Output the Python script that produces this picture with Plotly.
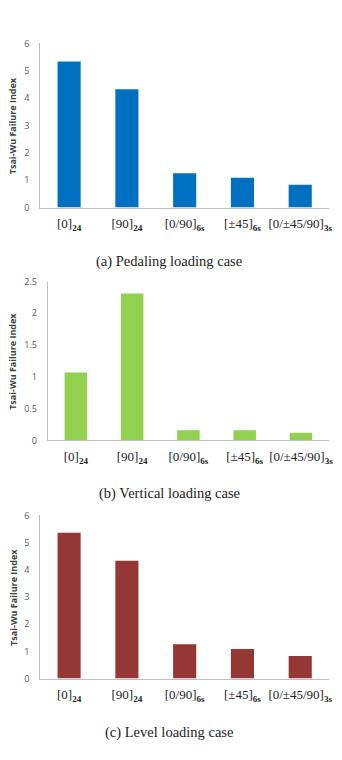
import plotly.graph_objects as go

categories = ["[0]<sub><b>24</b></sub>", "[90]<sub><b>24</b></sub>", "[0/90]<sub><b>6s</b></sub>",
              "[±45]<sub><b>6s</b></sub>", "[0/±45/90]<sub><b>3s</b></sub>"]
pedaling = [5.34, 4.32, 1.25, 1.09, 0.83]
vertical = [1.07, 2.31, 0.16, 0.16, 0.12]
level = [5.36, 4.33, 1.26, 1.09, 0.83]
captions = ["(a) Pedaling loading case", "(b) Vertical loading case", "(c) Level loading case"]
colors = ["#0070C0", "#92D050", "#953735"]
ranges = [[0, 6], [0, 2.5], [0, 6]]
dticks = [1, 0.5, 1]
ytitle = "Tsai-Wu Failure Index"

W, H = 342, 760
# pixel boxes: (x0, x1, ytop, ybottom)
boxes = [(40.7, 333, 37, 204), (48.3, 333, 279.3, 441), (40.7, 333, 517.3, 683.3)]
cap_y = [259, 495, 738]

fig = go.Figure()
series = [pedaling, vertical, level]
for i, (vals, col) in enumerate(zip(series, colors)):
    n = "" if i == 0 else str(i + 1)
    fig.add_trace(go.Bar(x=categories, y=vals, marker=dict(color=col, line=dict(width=0)),
                         xaxis="x" + n, yaxis="y" + n, showlegend=False, hoverinfo="y"))
    x0, x1, yt, yb = boxes[i]
    fig.layout["xaxis" + n] = dict(
        domain=[x0 / W, x1 / W], anchor="y" + n, type="category",
        showline=True, linecolor="#BFBFBF", linewidth=1, showgrid=False, zeroline=False,
        ticks="", ticklabelstandoff=4,
        tickfont=dict(family="Liberation Serif", size=13, color="#222222"))
    fig.layout["yaxis" + n] = dict(
        domain=[1 - yb / H, 1 - yt / H], anchor="x" + n, range=ranges[i], dtick=dticks[i],
        showline=True, linecolor="#BFBFBF", linewidth=1, showgrid=False, zeroline=False,
        ticks="", ticklabelstandoff=8,
        tickfont=dict(family="Open Sans", size=9, color="#595959"))
    fig.add_annotation(text=captions[i], xref="paper", yref="paper", x=171 / W, y=1 - cap_y[i] / H,
                       showarrow=False, xanchor="center", yanchor="middle",
                       font=dict(family="Liberation Serif", size=14.5, color="#222222"))
    fig.add_annotation(text="<b>" + ytitle + "</b>", xref="paper", yref="paper", x=13 / W,
                       y=1 - (yt + yb) / 2 / H, textangle=-90, showarrow=False,
                       xanchor="center", yanchor="middle",
                       font=dict(family="Open Sans", size=9, color="#404040"))

fig.update_layout(width=W, height=H, margin=dict(l=0, r=0, t=0, b=0),
                  paper_bgcolor="white", plot_bgcolor="white", bargap=0.6)
fig.write_html("out.html")
